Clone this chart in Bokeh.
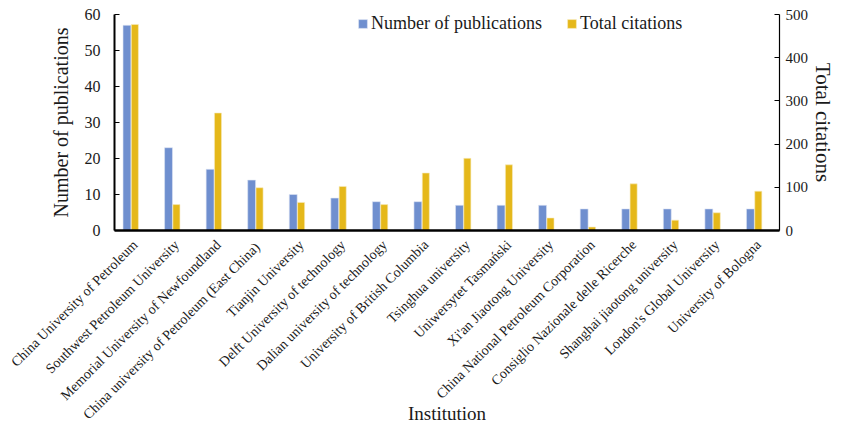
from bokeh.plotting import figure
from bokeh.models import ColumnDataSource, Range1d, LinearAxis, Legend, LegendItem, FactorRange
from bokeh.transform import dodge
from bokeh.embed import file_html
from bokeh.resources import INLINE
import math

institutions = [
    "China University of Petroleum",
    "Southwest Petroleum University",
    "Memorial University of Newfoundland",
    "China university of  Petroleum (East China)",
    "Tianjin University",
    "Delft University of technology",
    "Dalian university of technology",
    "University of British Columbia",
    "Tsinghua university",
    "Uniwersytet Tasmański",
    "Xi'an Jiaotong University",
    "China National Petroleum Corporation",
    "Consiglio Nazionale delle Ricerche",
    "Shanghai jiaotong university",
    "London's Global University",
    "University of Bologna",
]
publications = [57, 23, 17, 14, 10, 9, 8, 8, 7, 7, 7, 6, 6, 6, 6, 6]
citations = [477, 60, 272, 99, 65, 102, 60, 133, 167, 152, 29, 8, 108, 24, 41, 91]
left_ticks = [0, 10, 20, 30, 40, 50, 60]
right_ticks = [0, 100, 200, 300, 400, 500]

BLUE = "#6F8FCF"
GOLD = "#E5B81A"
FONT = "Liberation Serif"
TXT = "#1a1a1a"

src = ColumnDataSource(dict(inst=institutions, pub=publications, cit=citations))

p = figure(x_range=FactorRange(*institutions), y_range=Range1d(0, 60),
           width=838, height=427, output_backend="svg", toolbar_location=None,
           min_border_left=114, min_border_right=50, min_border_top=14, min_border_bottom=195)
p.extra_y_ranges = {"cit": Range1d(0, 500)}

r1 = p.vbar(x=dodge("inst", -0.2, range=p.x_range), top="pub", width=0.19, source=src,
            fill_color=BLUE, line_color="#DDE4F4", line_width=0.6)
r2 = p.vbar(x=dodge("inst", -0.01, range=p.x_range), top="cit", width=0.17, source=src,
            fill_color=GOLD, line_color="#F6EBC0", line_width=0.6, y_range_name="cit")

p.outline_line_color = None
p.grid.visible = False
p.background_fill_color = "white"

ax = p.xaxis[0]
ax.major_label_orientation = math.pi / 4
ax.major_tick_line_color = None
ax.minor_tick_line_color = None
ax.axis_line_width = 2.5
ax.axis_line_color = "black"
ax.major_label_text_font = FONT
ax.major_label_text_font_size = "14px"
ax.major_label_text_color = TXT
ax.major_label_standoff = 6
ax.axis_label = "Institution"
ax.axis_label_text_font = FONT
ax.axis_label_text_font_style = "normal"
ax.axis_label_text_font_size = "19px"
ax.axis_label_text_color = TXT
ax.axis_label_standoff = -27

ay = p.yaxis[0]
ay.ticker = left_ticks
ay.axis_label = "Number of publications"
ay.axis_label_text_font = FONT
ay.axis_label_text_font_style = "normal"
ay.axis_label_text_font_size = "20px"
ay.axis_label_text_color = TXT
ay.axis_label_standoff = 10
ay.major_label_text_font = FONT
ay.major_label_text_font_size = "16px"
ay.major_label_text_color = TXT
ay.major_label_standoff = 14
ay.major_tick_in = 5
ay.major_tick_out = 0
ay.minor_tick_line_color = None
ay.axis_line_width = 2

ry = LinearAxis(y_range_name="cit", ticker=right_ticks, axis_label="Total citations")
ry.axis_label_text_font = FONT
ry.axis_label_text_font_style = "normal"
ry.axis_label_text_font_size = "21px"
ry.axis_label_text_color = TXT
ry.axis_label_standoff = 0
ry.major_label_text_font = FONT
ry.major_label_text_font_size = "15px"
ry.major_label_text_color = TXT
ry.major_label_standoff = 6
ry.major_tick_in = 5
ry.major_tick_out = 0
ry.minor_tick_line_color = None
ry.axis_line_width = 1.2
p.add_layout(ry, "right")

legend = Legend(items=[LegendItem(label="Number of publications", renderers=[r1]),
                       LegendItem(label="Total citations", renderers=[r2])],
                orientation="horizontal", location=(243, 196),
                label_text_font=FONT, label_text_font_size="18px", label_text_color=TXT,
                glyph_width=11, glyph_height=11, spacing=24, padding=0, margin=0,
                background_fill_alpha=0, border_line_color=None, label_standoff=3)
p.add_layout(legend, "center")

open("out.html", "w").write(file_html(p, INLINE))
